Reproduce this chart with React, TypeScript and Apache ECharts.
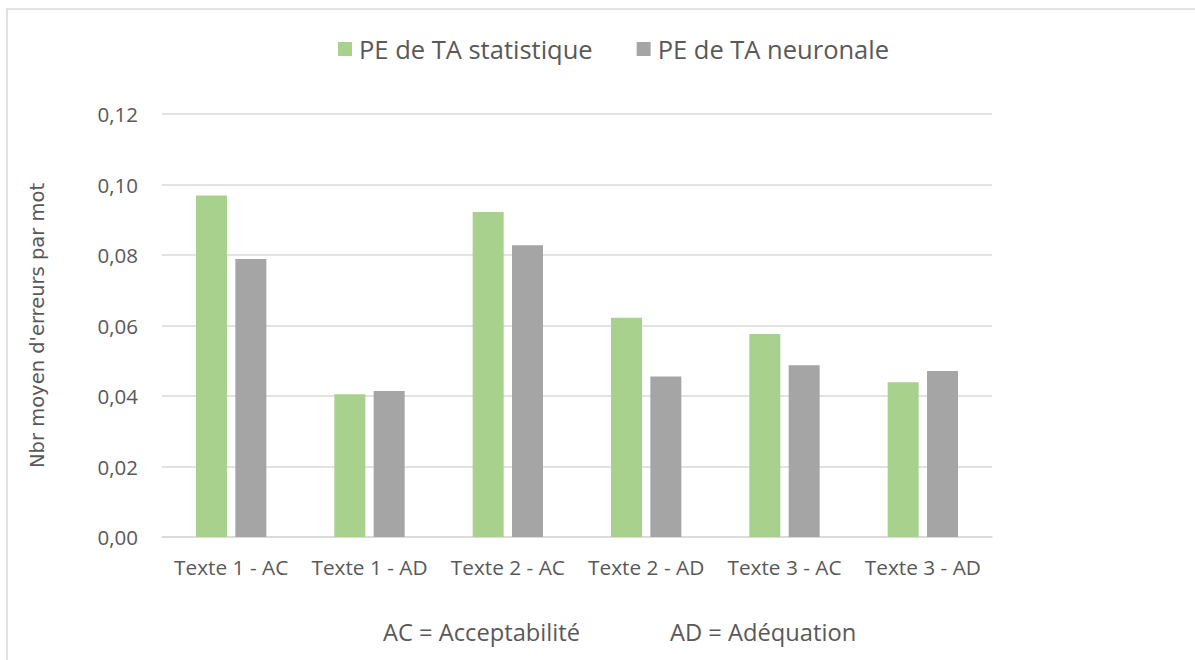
import React, { useEffect, useRef } from "react";
import * as echarts from "echarts";

const categories = ["Texte 1 - AC", "Texte 1 - AD", "Texte 2 - AC", "Texte 2 - AD", "Texte 3 - AC", "Texte 3 - AD"];
const statistique = [0.0969, 0.0405, 0.0922, 0.0622, 0.0576, 0.0439];
const neuronale = [0.0789, 0.0414, 0.0828, 0.0455, 0.0487, 0.0471];
const seriesNames = ["PE de TA statistique", "PE de TA neuronale"];
const notes = ["AC = Acceptabilité", "AD = Adéquation"];
const yAxisTitle = "Nbr moyen d'erreurs par mot";

const TEXT = "#595959";
const FONT = "'Open Sans', sans-serif";

export default function App() {
  const ref = useRef<HTMLDivElement>(null);
  useEffect(() => {
    if (!ref.current) return;
    const chart = echarts.init(ref.current, null, { renderer: "svg" });
    chart.setOption({
      animation: false,
      backgroundColor: "#ffffff",
      textStyle: { fontFamily: FONT, color: TEXT },
      legend: {
        left: 333,
        top: 31,
        itemWidth: 14,
        itemHeight: 14,
        itemGap: 44,
        icon: "rect",
        textStyle: { fontSize: 25.5, color: TEXT, fontFamily: FONT, padding: [0, 0, 0, 2] },
        data: seriesNames,
      },
      grid: { left: 162, right: 203, top: 114, bottom: 123 },
      xAxis: {
        type: "category",
        data: categories,
        axisLine: { lineStyle: { color: "#D9D9D9", width: 1.5 } },
        axisTick: { show: false },
        axisLabel: { fontSize: 20.8, color: TEXT, margin: 19, fontFamily: FONT, interval: 0, hideOverlap: false },
      },
      yAxis: {
        type: "value",
        min: 0,
        max: 0.12,
        interval: 0.02,
        name: yAxisTitle,
        nameLocation: "middle",
        nameRotate: 90,
        nameGap: 115,
        nameTextStyle: { fontSize: 19.5, color: TEXT, fontFamily: "'DejaVu Sans', sans-serif" },
        axisLine: { show: false },
        axisTick: { show: false },
        splitLine: { lineStyle: { color: "#D9D9D9", width: 1.5 } },
        axisLabel: {
          fontSize: 20.5,
          color: TEXT,
          margin: 24,
          fontFamily: FONT,
          formatter: (v: number) => v.toFixed(2).replace(".", ","),
        },
      },
      series: [
        {
          name: seriesNames[0],
          type: "bar",
          data: statistique,
          barWidth: "22.4%",
          barGap: "27%",
          itemStyle: { color: "#A9D18E" },
        },
        {
          name: seriesNames[1],
          type: "bar",
          data: neuronale,
          barWidth: "22.4%",
          barGap: "27%",
          itemStyle: { color: "#A5A5A5" },
        },
      ],
      graphic: [
        {
          type: "rect",
          shape: { x: 7, y: 9, width: 1400, height: 800 },
          style: { fill: "none", stroke: "#D9D9D9", lineWidth: 1.5 },
          silent: true,
        },
        {
          type: "text",
          x: 383,
          y: 632,
          style: { text: notes[0], fontSize: 23.7, fill: TEXT, fontFamily: FONT, verticalAlign: "middle" },
        },
        {
          type: "text",
          x: 670,
          y: 632,
          style: { text: notes[1], fontSize: 23.7, fill: TEXT, fontFamily: FONT, verticalAlign: "middle" },
        },
      ],
    });
    return () => chart.dispose();
  }, []);
  return <div ref={ref} style={{ position: "fixed", left: 0, top: 0, width: 1195, height: 660 }} />;
}
